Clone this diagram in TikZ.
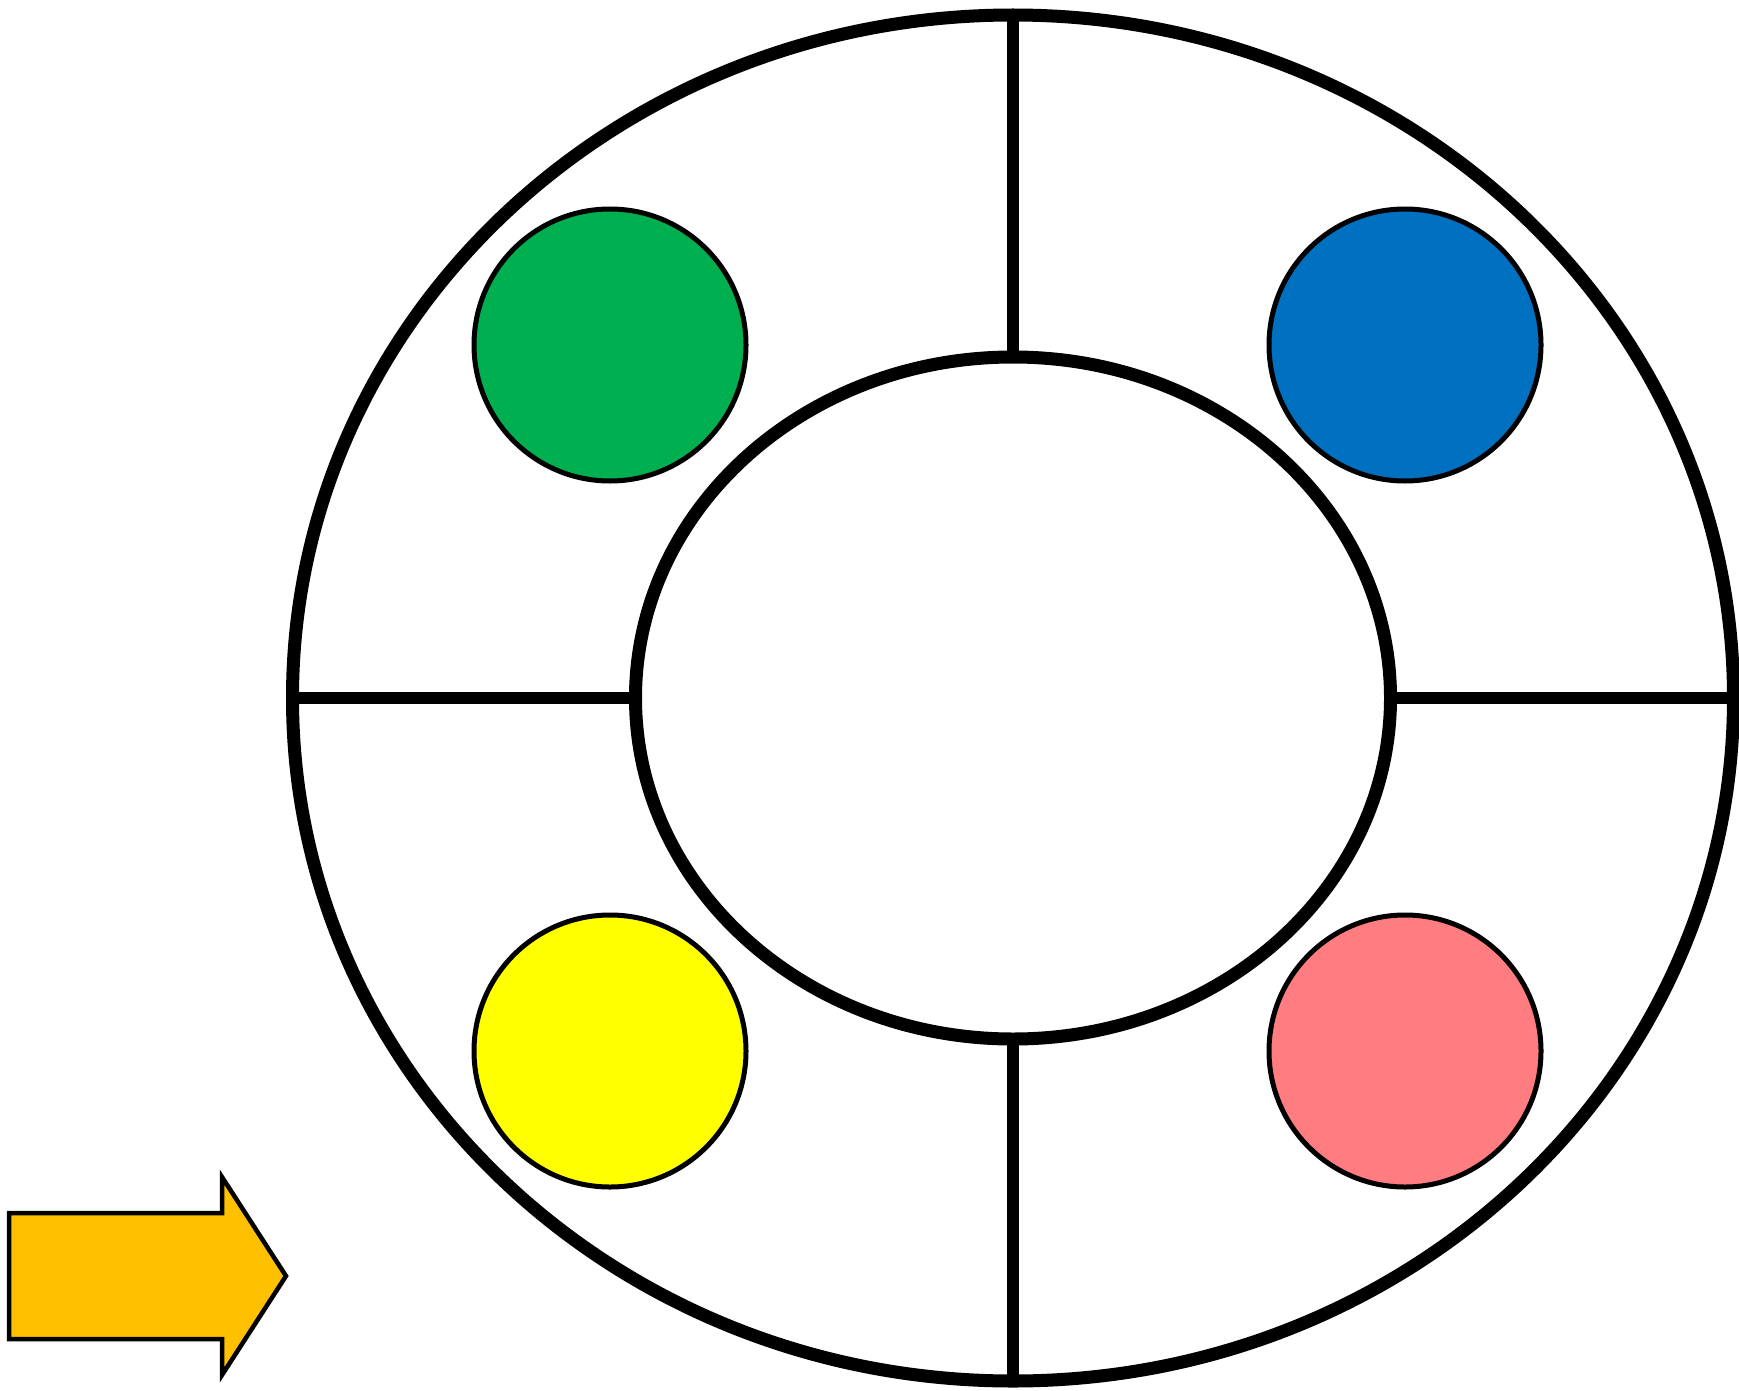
\documentclass[tikz,border=0pt]{standalone}
\usetikzlibrary{shapes.geometric}
\definecolor{dotgreen}{HTML}{00B050}
\definecolor{dotblue}{HTML}{0070C0}
\definecolor{dotyellow}{HTML}{FFFF00}
\definecolor{dotpink}{HTML}{FF7C80}
\definecolor{arroworange}{HTML}{FFC000}
\begin{document}
\begin{tikzpicture}[x=1pt,y=-1pt,
  ring/.style={ellipse,draw,line width=13pt,inner sep=0pt,outer sep=0pt},
  ringline/.style={line width=11.5pt},
  dot/.style={circle,draw,line width=5pt,minimum size=272pt,inner sep=0pt,outer sep=0pt}]
  \useasboundingbox (0,0) rectangle (1739,1391);
  % Rings
  \node (outer) [ring,minimum width=1441pt,minimum height=1366pt] at (1013,698) {};
  \node (inner) [ring,minimum width=755pt,minimum height=682pt] at (1013,698) {};
  % Spokes
  \draw[ringline] (outer.north) -- (inner.north);
  \draw[ringline] (inner.south) -- (outer.south);
  \draw[ringline] (outer.west) -- (inner.west);
  \draw[ringline] (inner.east) -- (outer.east);
  % Dots
  \node (green) [dot,fill=dotgreen] at (610,345) {};
  \node (blue) [dot,fill=dotblue] at (1405,345) {};
  \node (yellow) [dot,fill=dotyellow] at (610,1051) {};
  \node (pink) [dot,fill=dotpink] at (1405,1051) {};
  % Arrow
  \draw[line width=4.5pt,fill=arroworange,line join=miter]
    (9,1213) -- (222,1213) -- (222,1177) -- (286,1276) -- (222,1375)
    -- (222,1339) -- (9,1339) -- cycle;
\end{tikzpicture}
\end{document}
